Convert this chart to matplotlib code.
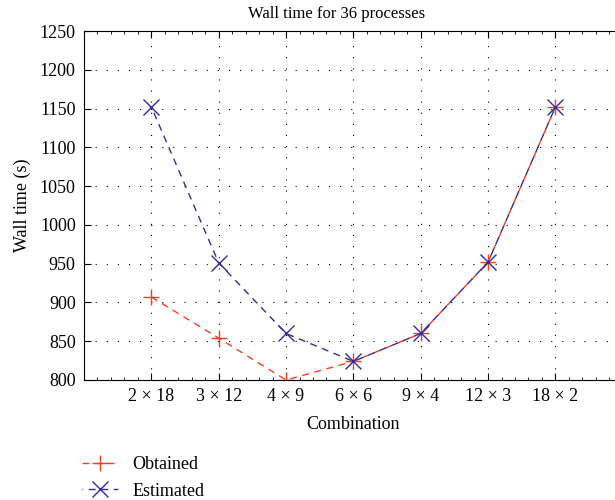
import matplotlib.pyplot as plt
from matplotlib.ticker import AutoMinorLocator

combinacoes = ["2 × 18", "3 × 12", "4 × 9", "6 × 6", "9 × 4", "12 × 3", "18 × 2"]
obtido = [907, 854, 800, 824, 860, 952, 1152]
estimado = [1152, 951, 860, 824, 860, 952, 1152]

plt.rcParams["font.family"] = ["Liberation Serif", "DejaVu Serif"]
plt.rcParams["font.size"] = 13

fig = plt.figure(figsize=(6.15, 5.0), dpi=100)
ax = fig.add_axes([0.1366, 0.24, 0.876, 0.698])

x = list(range(2, 2 + len(combinacoes)))
l1, = ax.plot(x, obtido, linestyle=(0, (5, 4)), color="#ff3a1f", marker="+",
              markersize=12, markeredgewidth=1.0, linewidth=1.0, label="Obtained")
l2, = ax.plot(x, estimado, linestyle=(4.5, (5, 4)), color="#2e2ea0", marker="x",
              markersize=11, markeredgewidth=1.0, linewidth=1.0, label="Estimated")

ax.set_xlim(1, 9)
ax.set_ylim(800, 1250)
ax.set_xticks(x)
ax.set_xticklabels(combinacoes)
ax.set_yticks(range(800, 1251, 50))
ax.xaxis.set_minor_locator(AutoMinorLocator(5))
ax.tick_params(which="both", direction="in", top=True, right=True, labelsize=13)
ax.tick_params(which="major", length=5, pad=6)
ax.tick_params(which="minor", length=2.5)
ax.grid(True, which="major", linestyle=(0, (1, 9)), color="black", linewidth=0.8)

# o título no original não fica centrado no eixo
fig.text(337 / 615, 1 - 14 / 500, "Wall time for 36 processes", fontsize=12,
         ha="center", va="center")
ax.set_xlabel("Combination", fontsize=13, labelpad=8)
ax.set_ylabel("Wall time (s)", fontsize=13, labelpad=6)

fig.legend(handles=[l1, l2], loc="lower left", bbox_to_anchor=(0.107, -0.032),
           frameon=False, fontsize=13, handlelength=2.0, labelspacing=0.55,
           handletextpad=0.8)

fig.savefig("out.png", dpi=100)
